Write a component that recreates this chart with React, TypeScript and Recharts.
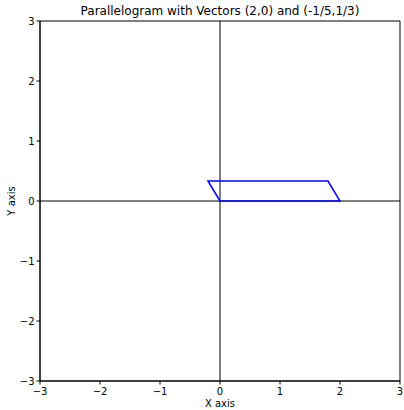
import { ComposedChart, Line, XAxis, YAxis, ReferenceLine, ReferenceArea } from 'recharts';

// parallelogram vertices: origin, (2,0), (2,0)+(-1/5,1/3), (-1/5,1/3), back to origin
const vertexX = [0, 2, 1.8, -0.2, 0];
const vertexY = [0, 0, 1 / 3, 1 / 3, 0];
const axisTicks = [-3, -2, -1, 0, 1, 2, 3];
const titleText = 'Parallelogram with Vectors (2,0) and (-1/5,1/3)';

const shape = vertexX.map((x, i) => ({ x, y: vertexY[i] }));

const fmt = (v: number) => String(v).replace('-', '\u2212');

const font = "'DejaVu Sans', sans-serif";

export default function App() {
  return (
    <div style={{ position: 'absolute', left: 0, top: 0, width: 404, height: 410, background: '#fff', fontFamily: font }}>
      <ComposedChart width={404} height={410} data={shape} margin={{ top: 21, right: 4, left: 0, bottom: 0 }}>
        <XAxis
          type="number"
          dataKey="x"
          domain={[-3, 3]}
          ticks={axisTicks}
          tickFormatter={fmt}
          height={29}
          allowDataOverflow
          stroke="#000"
          tickSize={3.5}
          tickMargin={3.5}
          tick={{ fill: '#000', fontSize: 10, fontFamily: font }}
          label={{ value: 'X axis', position: 'insideBottom', offset: 3, fill: '#000', fontSize: 10, fontFamily: font }}
        />
        <YAxis
          type="number"
          domain={[-3, 3]}
          ticks={axisTicks}
          tickFormatter={fmt}
          width={40}
          allowDataOverflow
          stroke="#000"
          tickSize={3.5}
          tickMargin={2}
          tick={{ fill: '#000', fontSize: 10, fontFamily: font }}
          label={{ value: 'Y axis', angle: -90, position: 'insideLeft', offset: 11, fill: '#000', fontSize: 10, fontFamily: font, style: { textAnchor: 'middle' } }}
        />
        <ReferenceArea x1={-3} x2={3} y1={-3} y2={3} fill="none" stroke="#000" strokeWidth={1} />
        <ReferenceLine x={0} stroke="#000" strokeWidth={1} />
        <ReferenceLine y={0} stroke="#000" strokeWidth={1} />
        <Line
          type="linear"
          dataKey="y"
          stroke="#0000ff"
          strokeWidth={1.5}
          dot={false}
          activeDot={false}
          isAnimationActive={false}
        />
        <text x={220} y={15} textAnchor="middle" fontSize={12} fontFamily={font} fill="#000">
          {titleText}
        </text>
      </ComposedChart>
    </div>
  );
}
